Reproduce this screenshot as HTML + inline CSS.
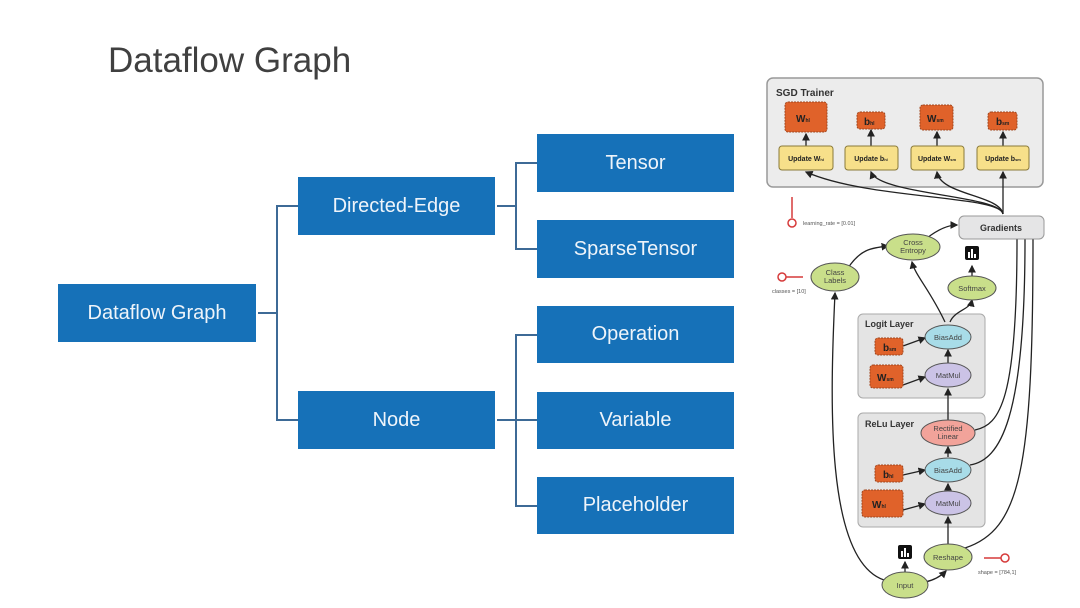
<!DOCTYPE html>
<html><head><meta charset="utf-8"><style>
body{margin:0;width:1080px;height:608px;background:#fff;overflow:hidden;position:relative;font-family:"Liberation Sans",sans-serif}
.t{position:absolute;left:108px;top:41px;font-size:35px;color:#404040}
.b{position:absolute;background:#1671b8;color:#eef4fa;font-size:20px;display:flex;align-items:center;justify-content:center}
.l{position:absolute;background:#3d6a96}
</style></head><body>
<div class="t">Dataflow Graph</div>
<div class="b" style="left:58px;top:284px;width:198px;height:58px">Dataflow Graph</div>
<div class="b" style="left:298px;top:177px;width:197px;height:58px">Directed-Edge</div>
<div class="b" style="left:298px;top:391px;width:197px;height:58px">Node</div>
<div class="b" style="left:537px;top:134px;width:197px;height:58px">Tensor</div>
<div class="b" style="left:537px;top:220px;width:197px;height:58px">SparseTensor</div>
<div class="b" style="left:537px;top:306px;width:197px;height:57px">Operation</div>
<div class="b" style="left:537px;top:392px;width:197px;height:57px">Variable</div>
<div class="b" style="left:537px;top:477px;width:197px;height:57px">Placeholder</div>
<div class="l" style="left:258px;top:312px;width:18px;height:2px"></div>
<div class="l" style="left:276px;top:205px;width:2px;height:216px"></div>
<div class="l" style="left:276px;top:205px;width:22px;height:2px"></div>
<div class="l" style="left:276px;top:419px;width:22px;height:2px"></div>
<div class="l" style="left:497px;top:205px;width:18px;height:2px"></div>
<div class="l" style="left:515px;top:162px;width:2px;height:88px"></div>
<div class="l" style="left:515px;top:162px;width:22px;height:2px"></div>
<div class="l" style="left:515px;top:248px;width:22px;height:2px"></div>
<div class="l" style="left:497px;top:419px;width:18px;height:2px"></div>
<div class="l" style="left:515px;top:334px;width:2px;height:172px"></div>
<div class="l" style="left:515px;top:334px;width:22px;height:2px"></div>
<div class="l" style="left:515px;top:419px;width:22px;height:2px"></div>
<div class="l" style="left:515px;top:505px;width:22px;height:2px"></div>

<svg style="position:absolute;left:0;top:0" width="1080" height="608" font-family="Liberation Sans,sans-serif" font-weight="bold">
<defs><marker id="a" markerWidth="6" markerHeight="6" refX="5" refY="3" orient="auto"><path d="M0,0L6,3L0,6z" fill="#222"/></marker></defs>
<rect x="767" y="78" width="276" height="109" rx="6" fill="#ececec" stroke="#999" stroke-width="1.5"/>
<text x="776" y="96" font-size="10" fill="#333">SGD Trainer</text>
<rect x="858" y="314" width="127" height="84" rx="5" fill="#e4e4e4" stroke="#aaa"/>
<text x="865" y="327" font-size="9" fill="#333">Logit Layer</text>
<rect x="858" y="413" width="127" height="114" rx="5" fill="#e4e4e4" stroke="#aaa"/>
<text x="865" y="427" font-size="9" fill="#333">ReLu Layer</text>
<g stroke="#222" stroke-width="1.3" fill="none" marker-end="url(#a)">
<path d="M806,146V134"/><path d="M871,146V130"/><path d="M937,146V132"/><path d="M1003,146V132"/>
<path d="M1003,214C1000,195 870,200 806,172"/><path d="M1003,214C1000,195 880,195 871,172"/><path d="M1003,214C1000,195 940,195 937,172"/><path d="M1003,214C1003,195 1003,190 1003,172"/>
<path d="M927,238C940,228 950,225 957,225"/>
<path d="M848,268C860,250 870,248 888,246"/>
<path d="M945,322C930,290 915,275 912,262"/>
<path d="M950,322C955,310 970,310 972,300"/>
<path d="M972,276V266"/>
<path d="M884,580C825,560 830,400 835,293"/>
<path d="M948,363V350"/><path d="M948,490V484"/><path d="M948,457V447"/><path d="M948,545V517"/>
<path d="M948,420V389"/>
<path d="M903,346L925,338"/><path d="M903,385L925,377"/><path d="M903,475L925,470"/><path d="M903,510L925,504"/>
<path d="M905,572V562"/><path d="M925,582C935,580 942,575 946,571"/>
<path d="M1017,240C1017,400 1000,425 975,430" marker-end="none" marker-start="url(#a)"/>
<path d="M1025,240C1025,420 1000,460 970,465" marker-end="none" marker-start="url(#a)"/>
<path d="M1033,240C1033,470 1020,530 965,548" marker-end="none" marker-start="url(#a)"/>
</g>
<g fill="#e0622a" stroke="#a0461e" stroke-dasharray="2,1">
<rect x="785" y="102" width="42" height="30" rx="3"/><rect x="857" y="112" width="28" height="17" rx="3"/>
<rect x="920" y="105" width="33" height="25" rx="3"/><rect x="988" y="112" width="29" height="18" rx="3"/></g>
<g font-size="10" fill="#222"><text x="796" y="122">W<tspan font-size="5">hl</tspan></text><text x="864" y="125">b<tspan font-size="5">hl</tspan></text><text x="927" y="122">W<tspan font-size="5">sm</tspan></text><text x="996" y="125">b<tspan font-size="5">sm</tspan></text></g>
<g fill="#f7e08a" stroke="#8a7a3a"><rect x="779" y="146" width="54" height="24" rx="3"/><rect x="845" y="146" width="53" height="24" rx="3"/><rect x="911" y="146" width="53" height="24" rx="3"/><rect x="977" y="146" width="52" height="24" rx="3"/></g>
<g font-size="7" fill="#222" text-anchor="middle"><text x="806" y="161">Update W<tspan font-size="4">hl</tspan></text><text x="871" y="161">Update b<tspan font-size="4">hl</tspan></text><text x="937" y="161">Update W<tspan font-size="4">sm</tspan></text><text x="1003" y="161">Update b<tspan font-size="4">sm</tspan></text></g>
<rect x="959" y="216" width="85" height="23" rx="5" fill="#e5e5e6" stroke="#999"/>
<text x="1001" y="231" font-size="9" fill="#333" text-anchor="middle">Gradients</text>
<g stroke="#d63a3a" stroke-width="1.5" fill="#fff"><path d="M792,218V197"/><circle cx="792" cy="223" r="4"/><path d="M786,277H803"/><circle cx="782" cy="277" r="4"/><path d="M1001,558H984"/><circle cx="1005" cy="558" r="4"/></g>
<g font-size="5.5" fill="#555" font-weight="normal"><text x="803" y="225">learning_rate = [0.01]</text><text x="772" y="293">classes = [10]</text><text x="978" y="574">shape = [784,1]</text></g>
<g fill="#e0622a" stroke="#a0461e" stroke-dasharray="2,1">
<rect x="875" y="338" width="28" height="17" rx="3"/><rect x="870" y="365" width="33" height="23" rx="3"/>
<rect x="875" y="465" width="28" height="17" rx="3"/><rect x="862" y="490" width="41" height="27" rx="3"/></g>
<g font-size="10" fill="#222"><text x="883" y="351">b<tspan font-size="5">sm</tspan></text><text x="877" y="381">W<tspan font-size="5">sm</tspan></text><text x="883" y="478">b<tspan font-size="5">hl</tspan></text><text x="872" y="508">W<tspan font-size="5">hl</tspan></text></g>
<g stroke="#555" stroke-width="1">
<ellipse cx="913" cy="247" rx="27" ry="13" fill="#c9df8a"/><ellipse cx="835" cy="277" rx="24" ry="14" fill="#c9df8a"/>
<ellipse cx="972" cy="288" rx="24" ry="12" fill="#c9df8a"/>
<ellipse cx="948" cy="337" rx="23" ry="12" fill="#a8dce8"/><ellipse cx="948" cy="375" rx="23" ry="12" fill="#cbc3e6"/>
<ellipse cx="948" cy="433" rx="27" ry="13" fill="#f2a39a"/><ellipse cx="948" cy="470" rx="23" ry="12" fill="#a8dce8"/>
<ellipse cx="948" cy="503" rx="23" ry="12" fill="#cbc3e6"/>
<ellipse cx="905" cy="585" rx="23" ry="13" fill="#c9df8a"/><ellipse cx="948" cy="557" rx="24" ry="13" fill="#c9df8a"/></g>
<g font-size="7.5" fill="#444" text-anchor="middle" font-weight="normal">
<text x="913" y="245">Cross</text><text x="913" y="253">Entropy</text><text x="835" y="275">Class</text><text x="835" y="283">Labels</text>
<text x="972" y="291">Softmax</text><text x="948" y="340">BiasAdd</text><text x="948" y="378">MatMul</text>
<text x="948" y="431">Rectified</text><text x="948" y="439">Linear</text><text x="948" y="473">BiasAdd</text><text x="948" y="506">MatMul</text>
<text x="905" y="588">Input</text><text x="948" y="560">Reshape</text></g>
<g><rect x="965" y="246" width="14" height="14" rx="2" fill="#111"/><rect x="968" y="252" width="2" height="6" fill="#fff"/><rect x="971" y="249" width="2" height="9" fill="#fff"/><rect x="974" y="254" width="2" height="4" fill="#fff"/>
<rect x="898" y="545" width="14" height="14" rx="2" fill="#111"/><rect x="901" y="551" width="2" height="6" fill="#fff"/><rect x="904" y="548" width="2" height="9" fill="#fff"/><rect x="907" y="553" width="2" height="4" fill="#fff"/></g>
</svg>
</body></html>
